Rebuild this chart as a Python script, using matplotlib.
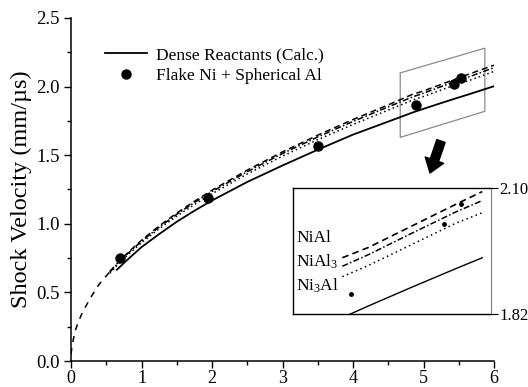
import matplotlib
matplotlib.use("Agg")
import matplotlib.pyplot as plt
from matplotlib.patches import Polygon
from matplotlib.ticker import MultipleLocator
import numpy as np

plt.rcParams['font.family'] = ['Liberation Serif', 'DejaVu Serif']
plt.rcParams['mathtext.fontset'] = 'custom'
plt.rcParams['mathtext.rm'] = 'Liberation Serif'
plt.rcParams['mathtext.it'] = 'Liberation Serif:italic'

# ---- data ----
x_curve = [0.55, 0.65, 0.8, 1.0, 1.25, 1.5, 1.75, 2.0, 2.5, 3.0, 3.5, 4.0, 4.5, 4.85, 5.0, 5.25, 5.5, 5.65, 6.0]
y_nial  = [0.653, 0.709, 0.787, 0.880, 0.984, 1.078, 1.164, 1.245, 1.391, 1.524, 1.646, 1.760, 1.867, 1.945, 1.968, 2.016, 2.064, 2.092, 2.156]
y_nial3 = [0.647, 0.704, 0.781, 0.873, 0.976, 1.069, 1.155, 1.235, 1.380, 1.512, 1.633, 1.746, 1.852, 1.926, 1.952, 2.000, 2.047, 2.072, 2.138]
y_ni3al = [0.639, 0.695, 0.771, 0.862, 0.964, 1.056, 1.140, 1.219, 1.363, 1.493, 1.613, 1.724, 1.829, 1.903, 1.928, 1.975, 2.022, 2.045, 2.111]

x_dense = [0.65, 0.8, 1.0, 1.25, 1.5, 1.75, 2.0, 2.5, 3.0, 3.5, 4.0, 4.5, 4.85, 5.0, 5.25, 5.5, 5.65, 6.0]
y_dense = [0.665, 0.738, 0.830, 0.925, 1.015, 1.095, 1.170, 1.305, 1.425, 1.540, 1.650, 1.745, 1.812, 1.838, 1.880, 1.921, 1.945, 2.003]

x_ext = [0.0, 0.01, 0.03, 0.06, 0.1, 0.15, 0.2, 0.3, 0.4, 0.5, 0.55]
y_ext = [0.05, 0.09, 0.15, 0.22, 0.28, 0.34, 0.39, 0.48, 0.56, 0.62, 0.65]

x_exp = [0.69, 1.95, 3.50, 4.90, 5.43, 5.53]
y_exp = [0.75, 1.19, 1.57, 1.865, 2.02, 2.065]

box_x = [4.67, 5.87, 5.87, 4.67]
box_y = [2.10, 2.28, 1.82, 1.63]

inset_labels = ["NiAl", "NiAl$_3$", "Ni$_3$Al"]
inset_yticks = [1.82, 2.10]

# ---- figure ----
W, H = 528, 387
fig = plt.figure(figsize=(W / 100, H / 100), dpi=100)
ax = fig.add_axes([71 / W, 1 - 361 / H, 423 / W, 343 / H])

ax.plot(x_ext, y_ext, color='k', lw=1.1, dashes=(4, 4))
ax.plot(x_curve, y_nial, color='k', lw=1.1, dashes=(4, 2.5))
ax.plot(x_curve, y_nial3, color='k', lw=1.1, dashes=(4, 1.5, 1, 1.5))
ax.plot(x_curve, y_ni3al, color='k', lw=1.1, dashes=(1, 2))
ax.plot(x_dense, y_dense, color='k', lw=1.3, label='Dense Reactants (Calc.)')
ax.plot(x_exp, y_exp, 'o', color='k', ms=6.5, ls='none', label='Flake Ni + Spherical Al')

ax.add_patch(Polygon(list(zip(box_x, box_y)), closed=True, fill=False,
                     edgecolor='#8a8a8a', lw=0.9, clip_on=False))

ax.set_xlim(0, 6)
ax.set_ylim(0, 2.5)
ax.xaxis.set_major_locator(MultipleLocator(1))
ax.xaxis.set_minor_locator(MultipleLocator(0.5))
ax.yaxis.set_major_locator(MultipleLocator(0.5))
ax.yaxis.set_minor_locator(MultipleLocator(0.25))
ax.yaxis.set_major_formatter(matplotlib.ticker.FormatStrFormatter('%.1f'))
for s in ['top', 'right']:
    ax.spines[s].set_visible(False)
for s in ['left', 'bottom']:
    ax.spines[s].set_linewidth(1.1)
ax.tick_params(which='major', direction='out', length=5, width=1, labelsize=13.5, pad=3)
ax.tick_params(axis='x', which='major', labelsize=13, pad=1.5)
ax.tick_params(which='minor', direction='out', length=3, width=1)
ax.set_ylabel('Shock Velocity (mm/\u00b5s)', fontsize=17.5, labelpad=3)

ax.legend(loc='upper left', bbox_to_anchor=(0.065, 0.935), frameon=False,
          fontsize=12.5, handlelength=2.4, handletextpad=0.5, labelspacing=0.25,
          borderaxespad=0)

# arrow
ax.annotate('', xy=(430, H - 173), xycoords='figure pixels',
            xytext=(441, H - 141), textcoords='figure pixels',
            arrowprops=dict(arrowstyle='simple,head_length=0.7,head_width=1.0,tail_width=0.45',
                            mutation_scale=14, color='k', shrinkA=0, shrinkB=0))

# ---- inset ----
axi = fig.add_axes([293 / W, 1 - 314 / H, 198 / W, 126 / H])
xc = np.array(x_curve)
m = (xc >= 4.85) & (xc <= 5.65)
axi.plot(xc[m], np.array(y_nial)[m], color='k', lw=1.2, dashes=(4, 2.5))
axi.plot(xc[m], np.array(y_nial3)[m], color='k', lw=1.1, dashes=(4, 1.5, 1, 1.5))
axi.plot(xc[m], np.array(y_ni3al)[m], color='k', lw=1.1, dashes=(1, 2.2))
xd = np.array(x_dense)
md = (xd >= 4.85) & (xd <= 5.65)
axi.plot(xd[md], np.array(y_dense)[md], color='k', lw=1.0)
axi.plot(x_exp, y_exp, 'o', color='k', ms=2.5, ls='none')
axi.set_xlim(4.568, 5.70)
axi.set_ylim(1.82, 2.10)
axi.set_xticks([])
axi.yaxis.tick_right()
axi.set_yticks(inset_yticks)
axi.set_yticklabels(['%.2f' % v for v in inset_yticks])
axi.tick_params(axis='y', direction='out', length=5, labelsize=12, pad=1)
axi.spines['right'].set_color('#808080')
for s in ['top', 'left', 'bottom']:
    axi.spines[s].set_linewidth(1.0)
for lbl, yy in zip(inset_labels, [0.60, 0.415, 0.225]):
    axi.text(0.015, yy, lbl, transform=axi.transAxes, fontsize=12.5, va='center', ha='left')

fig.savefig('out.png', dpi=100)
